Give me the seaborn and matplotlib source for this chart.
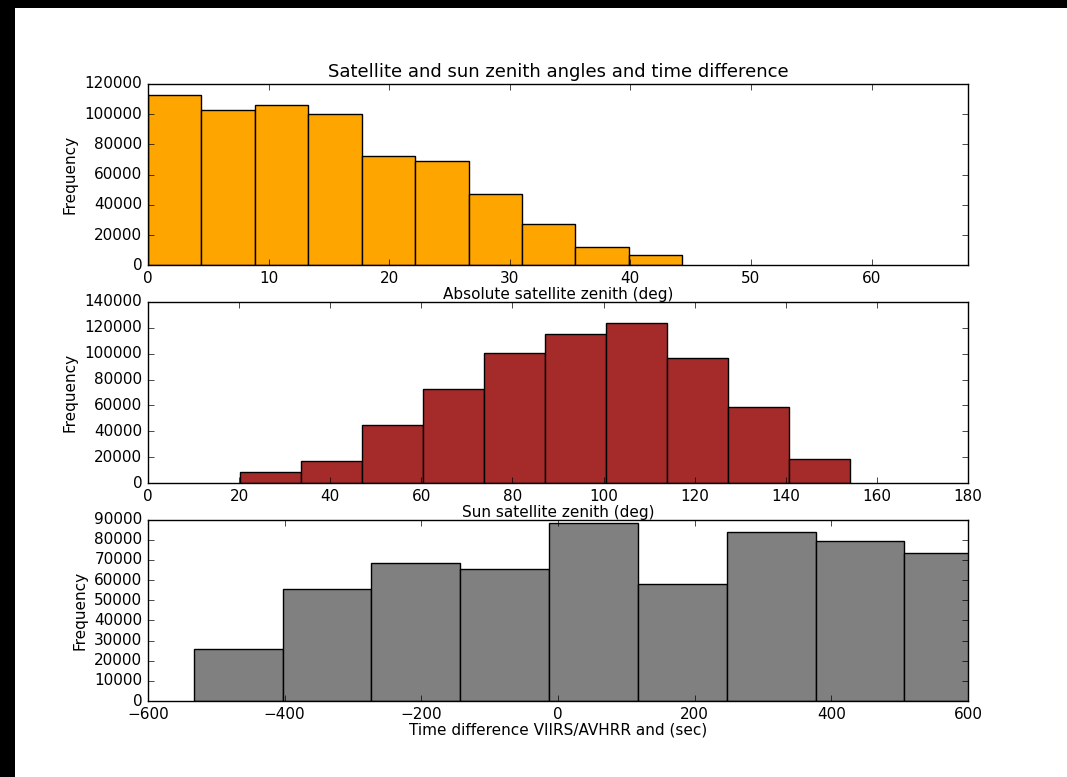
import numpy as np
import pandas as pd
import matplotlib
matplotlib.use("Agg")
import matplotlib.pyplot as plt
import seaborn as sns
from matplotlib.patches import Rectangle

# bin edges and counts
sat_edges = [0, 4.43, 8.86, 13.29, 17.72, 22.15, 26.58, 31.01, 35.44, 39.87, 44.3]
sat_counts = [112500, 102700, 106000, 100300, 72200, 68900, 47200, 27200, 12200, 6800]

sun_edges = [20.3, 33.68, 47.06, 60.44, 73.82, 87.2, 100.58, 113.96, 127.34, 140.72, 154.1]
sun_counts = [8800, 17000, 44900, 73000, 100100, 115100, 123400, 97000, 59100, 18600]

dt_edges = [-533, -403, -273, -143, -13, 117, 247, 377, 507, 637]
dt_counts = [25800, 55700, 68300, 65600, 88200, 58100, 84000, 79600, 73400]

plt.style.use("classic")
plt.rcParams["font.family"] = ["DejaVu Sans"]
plt.rcParams["font.size"] = 11

fig, axes = plt.subplots(3, 1, figsize=(10.67, 7.77), dpi=100)
fig.patch.set_facecolor("white")
# dark strips on top and left, as in the screenshot
fig.patches.append(Rectangle((0, 1 - 8 / 777), 1, 8 / 777, transform=fig.transFigure,
                             facecolor="black", edgecolor="none"))
fig.patches.append(Rectangle((0, 0), 15 / 1067, 1, transform=fig.transFigure,
                             facecolor="black", edgecolor="none"))
fig.subplots_adjust(left=0.1387, right=0.9072, top=0.8919, bottom=0.0978, hspace=0.2)


def draw(ax, edges, counts, color):
    centers = [(a + b) / 2 for a, b in zip(edges[:-1], edges[1:])]
    df = pd.DataFrame({"x": centers, "n": counts})
    sns.histplot(data=df, x="x", weights="n", bins=edges, color=color,
                 edgecolor="black", linewidth=1, alpha=1, ax=ax)


draw(axes[0], sat_edges, sat_counts, "orange")
axes[0].set_xlim(0, 68)
axes[0].set_ylim(0, 120000)
axes[0].set_xlabel("Absolute satellite zenith (deg)", labelpad=1)
axes[0].set_title("Satellite and sun zenith angles and time difference", fontsize=13)

draw(axes[1], sun_edges, sun_counts, "brown")
axes[1].set_xlim(0, 180)
axes[1].set_ylim(0, 140000)
axes[1].set_xlabel("Sun satellite zenith (deg)", labelpad=1)

draw(axes[2], dt_edges, dt_counts, "gray")
axes[2].set_xlim(-600, 600)
axes[2].set_ylim(0, 90000)
axes[2].set_xlabel("Time difference VIIRS/AVHRR and (sec)", labelpad=1)

for ax in axes:
    ax.set_ylabel("Frequency")
    ax.tick_params(labelsize=11)

fig.savefig("out.png", dpi=100, facecolor=fig.get_facecolor())
